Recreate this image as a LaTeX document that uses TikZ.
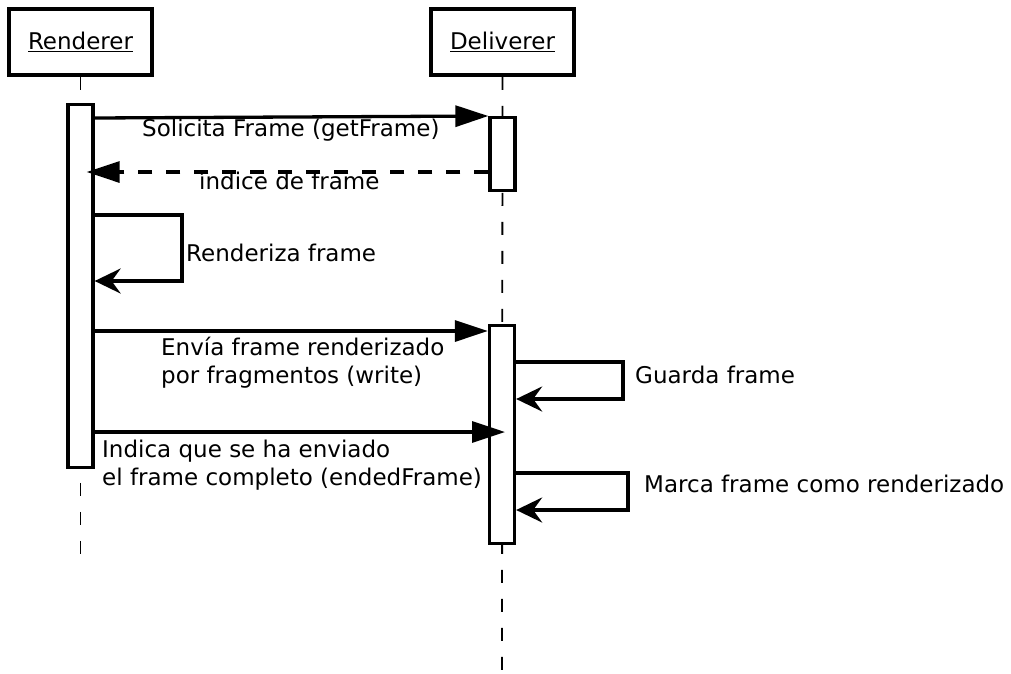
\documentclass[tikz,border=0pt]{standalone}
\usepackage{fontspec}
\setmainfont{DejaVu Sans}
\usetikzlibrary{arrows.meta,calc}

\tikzset{
  actor/.style={draw, line width=3.5pt, fill=white, minimum width=143pt,
    minimum height=66pt, inner sep=0pt, font=\fontsize{23}{27}\selectfont},
  lifeline/.style={line width=1.8pt, dash pattern=on 13pt off 16pt},
  activation/.style={draw, line width=3.3pt, fill=white, minimum width=25pt,
    inner sep=0pt, anchor=north},
  call/.style={line width=3.3pt, -{Triangle[length=33pt, width=21pt]}},
  reply/.style={line width=3.3pt, dash pattern=on 14pt off 14pt,
    -{Triangle[length=33pt, width=21pt]}},
  selfcall/.style={line width=3.3pt, -{Stealth[length=26pt, width=25pt, inset=9pt]}},
  lbl/.style={anchor=base west, inner sep=0pt, font=\fontsize{23}{28}\selectfont,
    align=left}
}

\begin{document}
\begin{tikzpicture}[x=1pt, y=-1pt]
  \useasboundingbox (0,0) rectangle (1011,673);

  % participants
  \node[actor] (rend) at (80.5,42) {\underline{Renderer}};
  \node[actor] (deliv) at (502.5,42) {\underline{Deliverer}};

  % lifelines
  \coordinate (rendEnd) at (80.5,562);
  \coordinate (delivEnd) at (502,673);
  \draw[lifeline] (rend.south) -- (rendEnd);
  \draw[lifeline] (deliv.south) -- (delivEnd);

  % activation bars
  \node[activation, minimum height=363pt] (ra) at (80.5,103) {};
  \node[activation, minimum height=73pt] (da1) at (502.5,116) {};
  \node[activation, minimum height=218pt] (da2) at (502,324) {};

  % Solicita Frame
  \draw[call] (ra.east |- 0,118) -- (da1.north west);
  \node[lbl] (l1) at (142,136) {Solicita Frame (getFrame)};

  % índice de frame (reply)
  \draw[reply] (da1.west |- 0,172) -- ($(ra.east |- 0,172)+(-8,0)$);
  \node[lbl] (l2) at (199,189) {índice de frame};

  % Renderiza frame
  \draw[selfcall] (ra.east |- 0,215) -- (182,215) |- (ra.east |- 0,281);
  \node[lbl] (l3) at (186,261) {Renderiza frame};

  % Envía frame renderizado
  \draw[call] (ra.east |- 0,331) -- (da2.west |- 0,331);
  \node[lbl] (l4) at (161,383) {Envía frame renderizado\\por fragmentos (write)};

  % Guarda frame
  \draw[selfcall] (da2.east |- 0,362) -- (623,362) |- (da2.east |- 0,399);
  \node[lbl] (l5) at (635,383) {Guarda frame};

  % Indica que se ha enviado
  \draw[call] (ra.east |- 0,432) -- ($(da2.center |- 0,432)+(3,0)$);
  \node[lbl] (l6) at (102,485) {Indica que se ha enviado\\el frame completo (endedFrame)};

  % Marca frame como renderizado
  \draw[selfcall] (da2.east |- 0,473) -- (628,473) |- (da2.east |- 0,510);
  \node[lbl] (l7) at (644,492) {Marca frame como renderizado};
\end{tikzpicture}
\end{document}
